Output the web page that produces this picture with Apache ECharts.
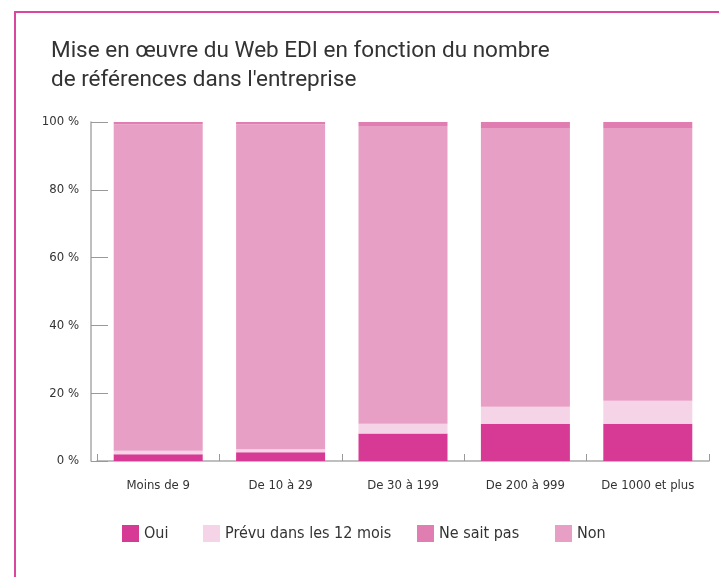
<!DOCTYPE html>
<html>
<head>
<meta charset="utf-8">
<script src="https://cdn.jsdelivr.net/npm/echarts@6/dist/echarts.min.js"></script>
<style>
  html, body { margin: 0; padding: 0; background: #fff; }
  #frame { position: absolute; left: 14px; top: 11px; width: 720px; height: 580px;
           border-left: 2px solid #d9489c; border-top: 2px solid #d9489c; }
  #main { position: absolute; left: 0; top: 0; width: 719px; height: 577px; }
</style>
</head>
<body>
<div id="frame"></div>
<div id="main"></div>
<script>
// categories (taille de l'entreprise en nombre de références)
var categories = ['Moins de 9', 'De 10 à 29', 'De 30 à 199', 'De 200 à 999', 'De 1000 et plus'];
var seriesNames = ['Oui', 'Prévu dans les 12 mois', 'Ne sait pas', 'Non'];

// valeurs en %
var oui       = [2.0, 2.6, 8.1, 11.0, 11.0];
var prevu     = [1.0, 0.9, 2.9, 5.0, 6.8];
var neSaitPas = [0.7, 0.7, 1.2, 1.8, 1.8];
var non       = [96.3, 95.8, 87.8, 82.2, 80.4];

var yTicks = [0, 20, 40, 60, 80, 100];

var colors = ['#d73a94', '#f5d4e8', '#e07db1', '#e89fc5'];
var labelFont = "'DejaVu Sans Condensed', 'Liberation Sans Narrow', Roboto, sans-serif";

var myChart = echarts.init(document.getElementById('main'));

var legendLeft = [117, 198, 412, 550];
var legends = seriesNames.map(function (n, i) {
  return {
    data: [n],
    left: legendLeft[i],
    top: 520,
    itemWidth: 17,
    itemHeight: 17,
    itemGap: 0,
    icon: 'rect',
    textStyle: { fontFamily: labelFont, fontSize: 16, color: '#333' }
  };
});

var data = [oui, prevu, neSaitPas, non];
// ordre d'empilement : Oui, Prévu, Non, puis Ne sait pas en haut
var stackOrder = [0, 1, 3, 2];

myChart.setOption({
  animation: false,
  title: {
    text: 'Mise en œuvre du Web EDI en fonction du nombre\nde références dans l\'entreprise',
    left: 46,
    top: 32,
    textStyle: { fontFamily: 'Roboto, sans-serif', fontWeight: 'normal', fontSize: 22.5, lineHeight: 29, color: '#333' }
  },
  legend: legends,
  grid: { left: 97, right: 10, top: 122, height: 339 },
  xAxis: {
    type: 'category',
    data: categories,
    axisLine: { lineStyle: { color: '#aaa', width: 1.5 } },
    axisTick: { show: true, inside: true, length: 7, lineStyle: { color: '#999' } },
    axisLabel: { margin: 18, fontFamily: labelFont, fontSize: 13, color: '#333' }
  },
  yAxis: {
    type: 'value',
    min: yTicks[0],
    max: yTicks[yTicks.length - 1],
    interval: 20,
    offset: 6,
    splitLine: { show: false },
    axisLine: { show: true, lineStyle: { color: '#aaa', width: 1.5 } },
    axisTick: { show: true, inside: true, length: 17, lineStyle: { color: '#999' } },
    axisLabel: { margin: 12, formatter: '{value} %', fontFamily: labelFont, fontSize: 13, color: '#333' }
  },
  series: stackOrder.map(function (i) {
    return {
      name: seriesNames[i],
      type: 'bar',
      stack: 'total',
      barWidth: 89,
      itemStyle: { color: colors[i] },
      data: data[i]
    };
  })
});
</script>
</body>
</html>
